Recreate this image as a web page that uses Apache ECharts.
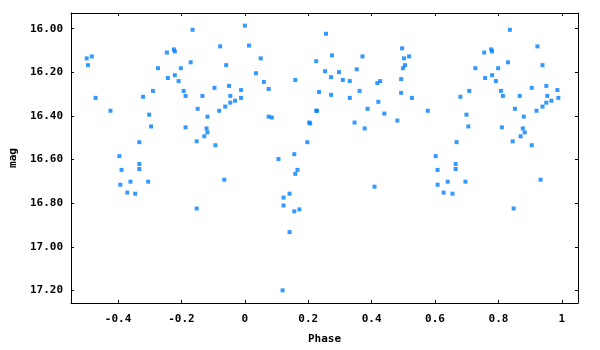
<!DOCTYPE html>
<html>
<head>
<meta charset="utf-8">
<script src="https://cdn.jsdelivr.net/npm/echarts@6/dist/echarts.min.js"></script>
<style>
html,body{margin:0;padding:0;background:#fff;}
#chart{width:600px;height:350px;}
</style>
</head>
<body>
<div id="chart"></div>
<script>
// Observations: [phase, mag]
const obsNegPhase = [[-0.165,16.005],[-0.078,16.081],[-0.499,16.136],[-0.483,16.127],[-0.495,16.167],[-0.246,16.109],[-0.224,16.095],[-0.221,16.104],[-0.171,16.154],[-0.059,16.167],[-0.274,16.181],[-0.202,16.181],[-0.221,16.213],[-0.243,16.226],[-0.209,16.240],[-0.471,16.317],[-0.321,16.312],[-0.290,16.285],[-0.193,16.285],[-0.187,16.308],[-0.134,16.308],[-0.096,16.271],[-0.050,16.262],[-0.046,16.308],[-0.012,16.281],[-0.012,16.317],[-0.031,16.330],[-0.046,16.339],[-0.062,16.357],[-0.081,16.376],[-0.149,16.367],[-0.118,16.403],[-0.424,16.376],[-0.302,16.394],[-0.296,16.448],[-0.187,16.452],[-0.121,16.457],[-0.118,16.475],[-0.128,16.493],[-0.152,16.516],[-0.093,16.534],[-0.333,16.520],[-0.396,16.584],[-0.333,16.620],[-0.389,16.647],[-0.333,16.643],[-0.393,16.715],[-0.361,16.701],[-0.305,16.701],[-0.371,16.751],[-0.346,16.756],[-0.065,16.692],[-0.152,16.824]];
const obsLowPhase = [[0.000,15.986],[0.013,16.077],[0.050,16.136],[0.035,16.204],[0.060,16.244],[0.075,16.276],[0.159,16.235],[0.075,16.403],[0.085,16.407],[0.256,16.023],[0.225,16.149],[0.275,16.122],[0.253,16.195],[0.272,16.222],[0.297,16.199],[0.309,16.235],[0.331,16.240],[0.353,16.186],[0.371,16.127],[0.234,16.290],[0.272,16.303],[0.331,16.317],[0.362,16.285],[0.225,16.376],[0.228,16.376],[0.203,16.430],[0.206,16.434],[0.197,16.520],[0.156,16.575],[0.387,16.367],[0.346,16.430],[0.378,16.457],[0.418,16.249],[0.427,16.240],[0.421,16.335],[0.440,16.389],[0.481,16.421],[0.496,16.090],[0.499,16.181],[0.493,16.231],[0.493,16.294],[0.106,16.597],[0.166,16.647],[0.159,16.665],[0.409,16.724],[0.141,16.756],[0.122,16.774],[0.122,16.810],[0.156,16.837],[0.172,16.828],[0.141,16.932],[0.119,17.199]];
const obsHighPhase = [[0.502,16.136],[0.505,16.167],[0.518,16.127],[0.527,16.317],[0.836,16.005],[0.923,16.081],[0.939,16.167],[0.755,16.109],[0.777,16.095],[0.780,16.104],[0.830,16.154],[0.727,16.181],[0.799,16.181],[0.780,16.213],[0.758,16.226],[0.792,16.240],[0.680,16.312],[0.708,16.285],[0.808,16.285],[0.814,16.308],[0.867,16.308],[0.905,16.271],[0.951,16.262],[0.954,16.308],[0.986,16.281],[0.989,16.317],[0.967,16.330],[0.951,16.339],[0.939,16.357],[0.920,16.376],[0.852,16.367],[0.880,16.403],[0.577,16.376],[0.699,16.394],[0.705,16.448],[0.811,16.452],[0.877,16.457],[0.883,16.475],[0.870,16.493],[0.845,16.516],[0.905,16.534],[0.668,16.520],[0.602,16.584],[0.665,16.620],[0.608,16.647],[0.665,16.643],[0.608,16.715],[0.640,16.701],[0.696,16.701],[0.627,16.751],[0.655,16.756],[0.933,16.692],[0.848,16.824]];

const xRange = [-0.5485, 1.051];
const yRange = [15.928, 17.257];
const xTitle = 'Phase';
const yTitle = 'mag';

const font = 'DejaVu Sans Mono';
const axisCommon = {
  type: 'value',
  splitLine: {show: false},
  axisLine: {show: true, onZero: false, lineStyle: {color: '#000', width: 1}},
  axisTick: {show: true, inside: true, length: 3, lineStyle: {color: '#000', width: 1}}
};

const chart = echarts.init(document.getElementById('chart'), null, {renderer: 'canvas'});
chart.setOption({
  animation: false,
  backgroundColor: '#fff',
  grid: {left: 65, right: 22, top: 13, bottom: 43, containLabel: false},
  xAxis: [
    Object.assign({}, axisCommon, {
      position: 'bottom', min: xRange[0], max: xRange[1], splitNumber: 8,
      name: xTitle, nameLocation: 'middle', nameGap: 31,
      nameTextStyle: {fontFamily: font, fontWeight: 'bold', fontSize: 11, color: '#000'},
      axisLabel: {show: true, showMinLabel: false, showMaxLabel: false, margin: 11,
        fontFamily: font, fontWeight: 'bold', fontSize: 11, color: '#000'}
    }),
    Object.assign({}, axisCommon, {
      position: 'top', min: xRange[0], max: xRange[1], splitNumber: 8,
      axisLabel: {show: false}
    })
  ],
  yAxis: [
    Object.assign({}, axisCommon, {
      position: 'left', inverse: true, min: yRange[0], max: yRange[1], splitNumber: 7,
      name: yTitle, nameLocation: 'middle', nameGap: 50, nameRotate: 90,
      nameTextStyle: {fontFamily: font, fontWeight: 'bold', fontSize: 11, color: '#000'},
      axisLabel: {show: true, showMinLabel: false, showMaxLabel: false, margin: 8,
        fontFamily: font, fontWeight: 'bold', fontSize: 11, color: '#000',
        formatter: v => v.toFixed(2)}
    }),
    Object.assign({}, axisCommon, {
      position: 'right', inverse: true, min: yRange[0], max: yRange[1], splitNumber: 7,
      axisLabel: {show: false}
    })
  ],
  series: [obsNegPhase, obsLowPhase, obsHighPhase].map(d => ({
    type: 'scatter',
    xAxisIndex: 0, yAxisIndex: 0,
    symbol: 'rect', symbolSize: 4,
    itemStyle: {color: '#0080ff'},
    data: d
  }))
});
</script>
</body>
</html>
